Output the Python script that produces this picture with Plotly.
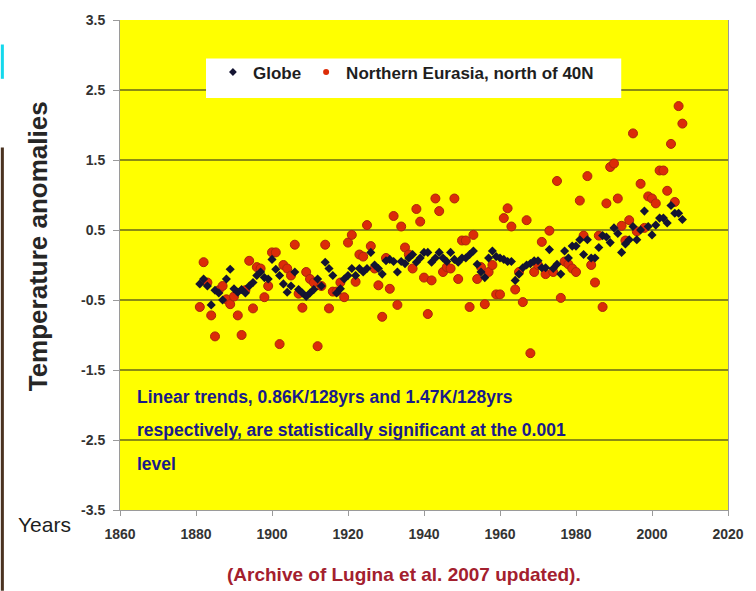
import plotly.graph_objects as go

# Annual temperature anomalies, 1881-2008
years = list(range(1881, 2009))

globe = [
    -0.27, -0.20, -0.30, -0.57, -0.36, -0.40, -0.50, -0.20, -0.06, -0.34,
    -0.39, -0.35, -0.40, -0.30, -0.25, -0.15, -0.10, -0.18, -0.20, 0.08,
    -0.06, -0.15, -0.27, -0.39, -0.30, -0.10, -0.35, -0.40, -0.45, -0.40,
    -0.35, -0.20, -0.30, 0.04, -0.05, -0.15, -0.40, -0.34, -0.20, -0.15,
    -0.05, -0.15, -0.05, -0.10, -0.05, 0.18, 0.00, -0.05, -0.13, 0.06,
    0.08, 0.05, -0.10, 0.05, 0.02, 0.10, 0.15, 0.04, 0.10, 0.18,
    0.18, 0.04, 0.10, 0.18, 0.10, 0.05, 0.18, 0.08, 0.04, 0.10,
    0.10, 0.15, 0.20, 0.01, -0.10, -0.18, 0.10, 0.20, 0.12, 0.10,
    0.08, 0.05, 0.05, -0.22, -0.13, -0.04, 0.00, 0.02, 0.06, 0.06,
    -0.04, -0.04, 0.22, -0.05, 0.01, -0.13, 0.20, 0.10, 0.27, 0.27,
    0.36, 0.15, 0.36, 0.10, 0.10, 0.25, 0.42, 0.40, 0.32, 0.53,
    0.45, 0.18, 0.30, 0.36, 0.55, 0.36, 0.50, 0.77, 0.55, 0.43,
    0.57, 0.67, 0.67, 0.60, 0.85, 0.74, 0.74, 0.65,
]

eurasia = [
    -0.60, 0.04, -0.25, -0.72, -1.02, -0.36, -0.30, -0.49, -0.56, -0.45,
    -0.72, -1.00, -0.36, 0.06, -0.62, -0.03, -0.05, -0.46, -0.30, 0.18,
    0.18, -1.13, 0.00, -0.05, -0.15, 0.29, -0.41, -0.61, -0.10, -0.20,
    -0.25, -1.16, -0.30, 0.29, -0.62, -0.38, -0.38, -0.25, -0.46, 0.32,
    0.43, -0.24, 0.15, 0.12, 0.57, 0.27, -0.05, -0.29, -0.74, 0.10,
    -0.34, 0.70, -0.57, 0.55, 0.25, 0.15, -0.05, 0.80, 0.62, -0.18,
    -0.70, -0.22, 0.95, 0.77, -0.10, -0.03, -0.05, 0.95, -0.20, 0.35,
    0.35, -0.60, 0.43, -0.20, -0.03, -0.56, -0.10, 0.00, -0.42, -0.42,
    0.67, 0.81, 0.55, -0.35, -0.10, -0.53, 0.64, -1.26, -0.10, 0.00,
    0.33, -0.13, 0.49, -0.10, 1.20, -0.47, 0.05, 0.01, -0.05, -0.10,
    0.92, 0.42, 1.27, 0.00, -0.25, 0.42, -0.60, 0.88, 1.40, 1.45,
    0.95, 0.56, 0.35, 0.64, 1.88, 0.48, 1.16, 0.53, 0.98, 0.95,
    0.88, 1.35, 1.35, 1.06, 1.73, 0.90, 2.27, 2.02,
]

y_ticks = [-3.5, -2.5, -1.5, -0.5, 0.5, 1.5, 2.5, 3.5]
x_ticks = [1860, 1880, 1900, 1920, 1940, 1960, 1980, 2000, 2020]

trend_lines = [
    "Linear trends, 0.86K/128yrs and 1.47K/128yrs",
    "respectively, are statistically significant at the 0.001",
    "level",
]

SANS = "Liberation Sans, Arial, sans-serif"
GLOBE_COLOR = "#141432"
EURASIA_COLOR = "#dc2c08"

fig = go.Figure()

# data series (legend entries are drawn by the small-marker traces below)
fig.add_trace(go.Scatter(
    x=years, y=eurasia, mode="markers", name="Northern Eurasia, north of 40N",
    showlegend=False,
    marker=dict(symbol="circle", size=9, color=EURASIA_COLOR,
                line=dict(color="#a8280c", width=1)),
))
fig.add_trace(go.Scatter(
    x=years, y=globe, mode="markers", name="Globe",
    showlegend=False,
    marker=dict(symbol="diamond", size=7, color=GLOBE_COLOR,
                line=dict(width=0)),
))

# legend keys with small symbols
fig.add_trace(go.Scatter(
    x=[None], y=[None], mode="markers", name="Globe",
    legendrank=1,
    marker=dict(symbol="diamond", size=6, color=GLOBE_COLOR),
))
fig.add_trace(go.Scatter(
    x=[None], y=[None], mode="markers", name="Northern Eurasia, north of 40N",
    legendrank=2,
    marker=dict(symbol="circle", size=6, color=EURASIA_COLOR),
))

# white panel behind the legend
fig.add_shape(type="rect", xref="paper", yref="paper",
              x0=(207 - 120) / 615, x1=(627 - 120) / 615,
              y0=(510 - 93) / 496, y1=(510 - 53) / 496,
              fillcolor="white", line=dict(width=0), layer="above")

# trend note inside the plot
for i, line in enumerate(trend_lines):
    fig.add_annotation(
        x=1863.9, y=-1.88 - i * 0.48, xref="x", yref="y",
        text=line, showarrow=False, xanchor="left", yanchor="middle",
        font=dict(family=SANS, size=17.5, color="#1a1a8a", weight="bold"),
    )

# axis titles and source note
fig.add_annotation(
    x=-0.135, y=0.538, xref="paper", yref="paper",
    text="Temperature anomalies", textangle=-90, showarrow=False,
    xanchor="center", yanchor="middle",
    font=dict(family=SANS, size=26, color="#262626", weight="bold"),
)
fig.add_annotation(
    x=-0.125, y=-0.03, xref="paper", yref="paper",
    text="Years", showarrow=False, xanchor="center", yanchor="middle",
    font=dict(family=SANS, size=21, color="#1e1e1e"),
)
fig.add_annotation(
    x=0.467, y=-0.131, xref="paper", yref="paper",
    text="(Archive of Lugina et al. 2007 updated).", showarrow=False,
    xanchor="center", yanchor="middle",
    font=dict(family=SANS, size=19, color="#a3202e", weight="bold"),
)

# coloured edge strips at the left border of the page
fig.add_shape(type="rect", xref="paper", yref="paper",
              x0=-0.196, x1=-0.191, y0=0.88, y1=0.95,
              fillcolor="#14d8ec", line=dict(width=0), layer="above")
fig.add_shape(type="rect", xref="paper", yref="paper",
              x0=-0.196, x1=-0.191, y0=-0.165, y1=0.74,
              fillcolor="#4a3220", line=dict(width=0), layer="above")

fig.update_layout(
    width=756, height=591,
    margin=dict(l=120, r=21, t=14, b=81),
    paper_bgcolor="white",
    plot_bgcolor="#ffff00",
    showlegend=True,
    legend=dict(
        orientation="h", x=(214 - 120) / 615, y=0.893,
        xanchor="left", yanchor="middle",
        bgcolor="rgba(0,0,0,0)", borderwidth=0,
        font=dict(family=SANS, size=17, color="#1e1e1e", weight="bold"),
        itemwidth=30,
    ),
    font=dict(family=SANS, color="#333333"),
)

fig.update_xaxes(
    range=[1860, 2020], tickvals=x_ticks, ticktext=[str(t) for t in x_ticks],
    showgrid=False, zeroline=False,
    showline=True, linecolor="#9a9a9a", linewidth=1,
    ticks="outside", ticklen=5, tickcolor="#9a9a9a", ticklabelstandoff=6,
    tickfont=dict(family=SANS, size=14, color="#333333", weight="bold"),
)
fig.update_yaxes(
    range=[-3.5, 3.5], tickvals=y_ticks, ticktext=[f"{v:.1f}" for v in y_ticks],
    showgrid=True, gridcolor="#8c8c14", gridwidth=2, zeroline=False,
    showline=True, mirror=True, linecolor="#9a9a9a", linewidth=1,
    ticks="outside", ticklen=6, tickcolor="#9a9a9a", ticklabelstandoff=5,
    tickfont=dict(family=SANS, size=14, color="#333333", weight="bold"),
)

fig.write_html("out.html")
